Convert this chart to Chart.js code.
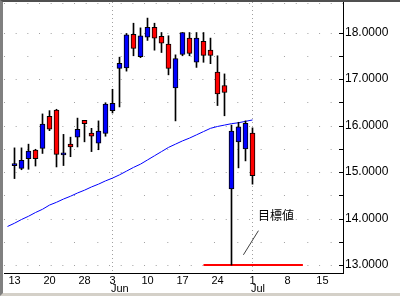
<!DOCTYPE html>
<html>
<head>
<meta charset="utf-8">
<script src="https://cdn.jsdelivr.net/npm/chart.js@4.4.0/dist/chart.umd.min.js"></script>
<style>
  html, body { margin: 0; padding: 0; background: #fff; }
  #frame {
    position: absolute; left: 0; top: 0; width: 400px; height: 296px;
    box-sizing: border-box; background: #fff;
    border-top: 2px solid #505050;
    border-left: 3px solid #808080;
    border-bottom: 3px solid #d4d0c8;
  }
  #frame canvas { display: block; }
</style>
</head>
<body>
<div id="frame"><canvas id="chart" width="397" height="291"></canvas></div>
<script>
/* ===============================
   DATA (trading day index 0 = May 13)
================================ */
const days   = [0,1,2,3,4,5,6,7,8,9,10,11,12,13,14,15,16,17,18,19,20,21,22,23,24,25,26,27,28,29,30,31,32,33,34];
const open   = [15.14,15.08,15.29,15.47,15.51,16.20,16.33,15.37,15.60,15.75,16.11,15.84,15.62,15.83,16.32,17.23,17.24,17.96,17.48,17.90,18.11,17.92,17.75,16.81,17.53,17.88,17.36,17.81,17.62,17.15,16.86,14.64,15.65,15.50,15.84];
const high   = [15.52,15.52,15.60,15.49,16.25,16.32,16.35,15.81,15.75,16.16,16.11,15.94,16.10,16.49,16.78,17.47,17.98,18.20,18.10,18.31,18.20,18.00,17.93,17.52,18.00,18.00,18.00,18.00,17.88,17.50,17.11,16.01,16.07,16.10,15.95];
const low    = [14.86,15.05,15.06,15.13,15.40,15.89,15.11,15.14,15.33,15.54,15.65,15.44,15.48,15.77,16.27,16.40,17.17,17.50,17.46,17.83,17.62,17.57,17.09,16.10,17.50,17.50,17.25,17.36,17.33,16.43,16.21,13.00,15.09,15.24,14.74];
const close  = [15.14,15.25,15.45,15.29,16.03,15.92,15.38,15.37,15.54,15.92,16.04,15.77,15.88,16.46,16.48,17.34,17.95,17.66,17.93,18.11,17.88,17.77,17.23,17.44,18.00,17.55,17.88,17.51,17.51,16.68,16.71,15.88,15.97,16.05,14.92];

const maDays   = [-1,0,1,2,3,4,5,6,7,8,9,10,11,12,13,14,15,16,17,18,19,20,21,22,23,24,25,26,27,28,29,30,31,32,33,34];
const maValues = [13.83,13.90,13.98,14.05,14.13,14.20,14.29,14.35,14.42,14.48,14.55,14.61,14.68,14.74,14.81,14.87,14.94,15.02,15.10,15.17,15.26,15.35,15.44,15.53,15.60,15.67,15.73,15.80,15.87,15.94,15.98,16.01,16.04,16.06,16.09,16.12];

const targetValue = 13.0;
const targetFrom  = 27;
const targetTo    = 41.2;
const targetLabel = "目標値";

const tickDays   = [0,5,10,14,19,24,29,34,39,44];
const tickLabels = ["13","20","28","3","10","17","24","1","8","15"];
const monthDays  = [14,34];
const monthNames = ["Jun","Jul"];
const priceTicks = [13,13.5,14,14.5,15,15.5,16,16.5,17,17.5,18];

/* ===============================
   NOTE POSITION (data units)
================================ */
const noteAt      = { x: 34.8, y: 14.07 };
const pointerFrom = { x: 32.7, y: 13.22 };
const pointerTo   = { x: 34.85, y: 13.74 };

const UP = "#0000ff", DOWN = "#ff0000";
const GRID = "#a0a0a0";
const FONT = '"Liberation Sans", Arial, sans-serif';

/* ===============================
   GRID, TICKS, LABELS
================================ */
const extras = {
  id: "extras",
  beforeDatasetsDraw(chart) {
    const { ctx, chartArea: a, scales: { x, y } } = chart;
    ctx.save();
    ctx.strokeStyle = GRID;
    ctx.lineWidth = 1;

    // dotted price lines (denser on whole numbers)
    const hline = (py, gap) => {
      ctx.setLineDash([1, gap]);
      ctx.beginPath();
      ctx.moveTo(a.left, py);
      ctx.lineTo(a.right, py);
      ctx.stroke();
    };
    hline(a.top + 1.5, 10.67);
    priceTicks.forEach(v => {
      hline(Math.round(y.getPixelForValue(v)) + 0.5, Number.isInteger(v) ? 10.67 : 22.33);
    });

    // dotted month separators
    ctx.setLineDash([1, 3]);
    monthDays.forEach(d => {
      const px = Math.round(x.getPixelForValue(d)) + 0.5;
      ctx.beginPath();
      ctx.moveTo(px, a.top);
      ctx.lineTo(px, a.bottom);
      ctx.stroke();
    });
    ctx.restore();
  },
  afterDraw(chart) {
    const { ctx, chartArea: a, scales: { x, y } } = chart;
    ctx.save();

    // short ticks inside the price axis
    ctx.strokeStyle = "#000";
    ctx.lineWidth = 1;
    priceTicks.forEach(v => {
      const py = Math.round(y.getPixelForValue(v)) + 0.5;
      ctx.beginPath();
      ctx.moveTo(a.right - 4, py);
      ctx.lineTo(a.right, py);
      ctx.stroke();
    });

    // month names
    ctx.fillStyle = "#000";
    ctx.font = "11px " + FONT;
    ctx.textAlign = "left";
    ctx.textBaseline = "middle";
    monthDays.forEach((d, i) => {
      ctx.fillText(monthNames[i], Math.round(x.getPixelForValue(d)) - 1, a.bottom + 16);
    });

    // target note
    ctx.font = '12px "Noto Sans CJK JP", sans-serif';
    ctx.fillText(targetLabel, x.getPixelForValue(noteAt.x), y.getPixelForValue(noteAt.y));
    ctx.strokeStyle = "#404040";
    ctx.beginPath();
    ctx.moveTo(x.getPixelForValue(pointerFrom.x), y.getPixelForValue(pointerFrom.y));
    ctx.lineTo(x.getPixelForValue(pointerTo.x), y.getPixelForValue(pointerTo.y));
    ctx.stroke();

    ctx.restore();
  }
};

/* ===============================
   CHART
================================ */
const colors = days.map((_, i) => close[i] >= open[i] ? UP : DOWN);

new Chart(document.getElementById("chart"), {
  type: "bar",
  data: {
    datasets: [
      {
        label: "body",
        data: days.map((d, i) => ({ x: d, y: [Math.min(open[i], close[i]), Math.max(open[i], close[i])] })),
        backgroundColor: colors,
        borderColor: "#000",
        borderWidth: 1,
        borderSkipped: false,
        barThickness: 5,
        minBarLength: 2,
        grouped: false,
        order: 0
      },
      {
        label: "wick",
        data: days.map((d, i) => ({ x: d, y: [low[i], high[i]] })),
        backgroundColor: "#000",
        borderWidth: 0,
        barThickness: 1,
        grouped: false,
        order: 1
      },
      {
        type: "line",
        label: "ma",
        data: maDays.map((d, i) => ({ x: d, y: maValues[i] })),
        borderColor: "#0000ff",
        borderWidth: 1,
        pointRadius: 0,
        tension: 0,
        order: 2
      },
      {
        type: "line",
        label: "target",
        data: [{ x: targetFrom, y: targetValue }, { x: targetTo, y: targetValue }],
        borderColor: "#ff0000",
        borderWidth: 2,
        pointRadius: 0,
        order: 3
      }
    ]
  },
  options: {
    responsive: false,
    animation: false,
    devicePixelRatio: 1,
    layout: { padding: { left: 1, top: 0, right: 0, bottom: 0 } },
    plugins: { legend: { display: false }, tooltip: { enabled: false } },
    scales: {
      x: {
        type: "linear",
        min: -1.5,
        max: 46.93,
        offset: false,
        afterBuildTicks: s => { s.ticks = tickDays.map(v => ({ value: v })); },
        afterFit: s => { s.height = 20; s.paddingLeft = 0; s.paddingRight = 0; },
        grid: { display: false, drawTicks: false },
        border: { display: true, color: "#000", width: 1 },
        ticks: {
          autoSkip: false,
          maxRotation: 0,
          padding: 1,
          color: "#000",
          font: { family: FONT, size: 11 },
          callback: v => tickLabels[tickDays.indexOf(v)] ?? ""
        }
      },
      y: {
        type: "linear",
        position: "right",
        min: 12.83,
        max: 18.656,
        afterBuildTicks: s => { s.ticks = priceTicks.map(v => ({ value: v })); },
        afterFit: s => { s.width = 57; s.paddingTop = 0; s.paddingBottom = 0; },
        grid: { display: false, drawTicks: false },
        border: { display: true, color: "#000", width: 1 },
        ticks: {
          padding: 2,
          color: "#000",
          font: { family: FONT, size: 12 },
          callback: v => Number.isInteger(v) ? v.toFixed(4) : ""
        }
      }
    }
  },
  plugins: [extras]
});
</script>
</body>
</html>
